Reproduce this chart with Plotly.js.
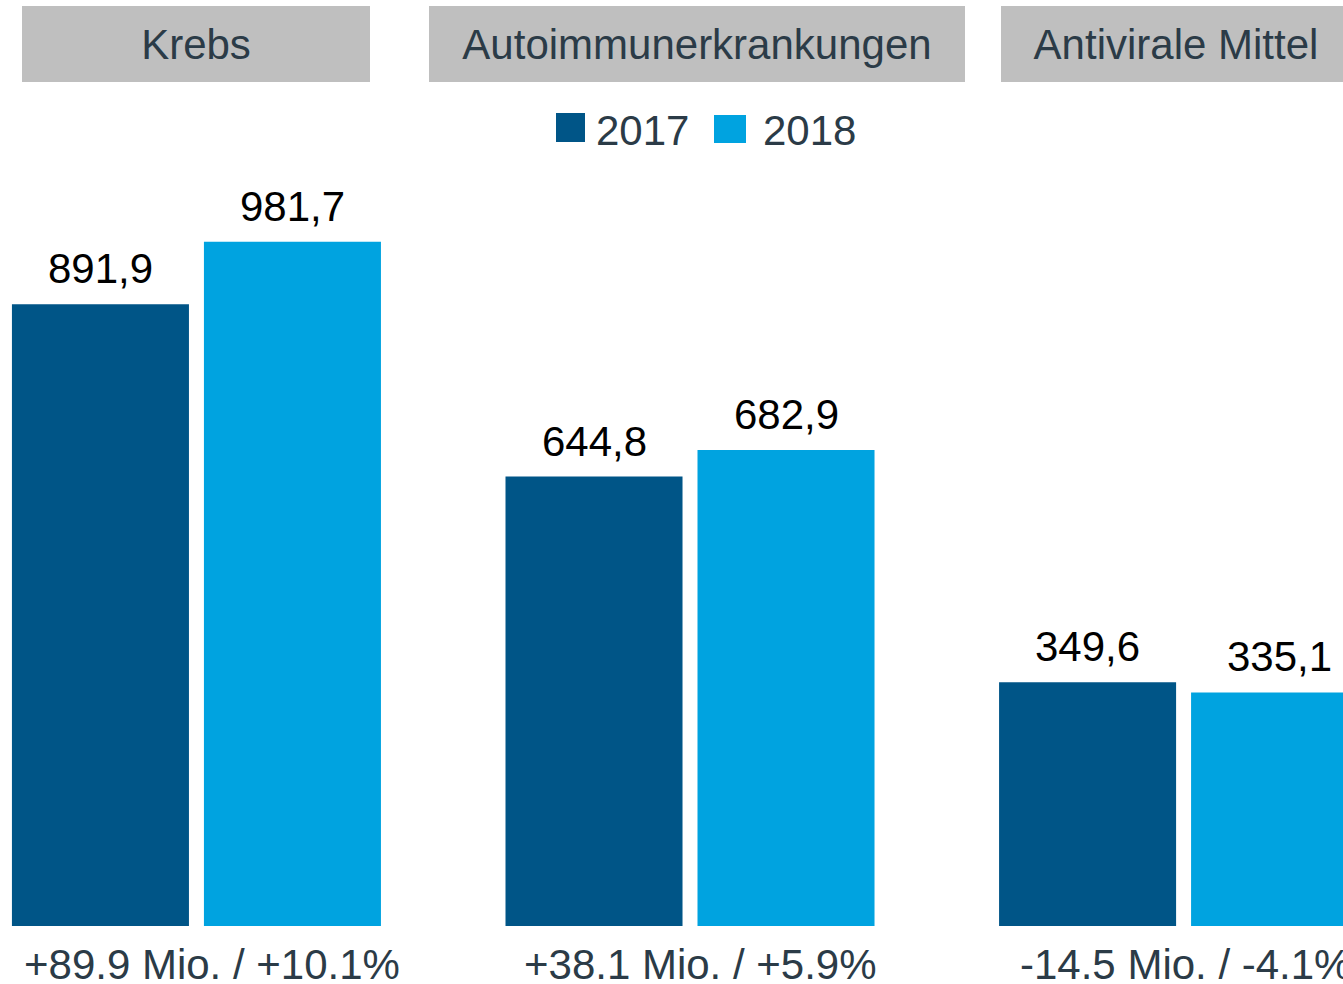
<!DOCTYPE html>
<html>
<head>
<meta charset="utf-8">
<script src="https://cdn.plot.ly/plotly-3.0.1.min.js"></script>
<style>html,body{margin:0;padding:0;background:#fff;}#chart{width:1343px;height:984px;}</style>
</head>
<body>
<div id="chart"></div>
<script>
var categories = ["Krebs", "Autoimmunerkrankungen", "Antivirale Mittel"];
var seriesNames = ["2017", "2018"];
var values2017 = [891.9, 644.8, 349.6];
var values2018 = [981.7, 682.9, 335.1];
var changeLabels = ["+89.9 Mio. / +10.1%", "+38.1 Mio. / +5.9%", "-14.5 Mio. / -4.1%"];

var colors = ["#005587", "#00A3E0"];
var FONT = "Liberation Sans, Arial, sans-serif";
var TXT = "#2B3B47";

function fmt(v){ return v.toFixed(1).replace(".", ","); }

var allSeries = [values2017, values2018];
var traces = allSeries.map(function(vals, k){
  return {
    type: "bar",
    name: seriesNames[k],
    x: categories,
    y: vals,
    marker: {color: colors[k]},
    showlegend: false,
    hoverinfo: "skip"
  };
});

var annotations = [];
// value labels above bars (bar offset within group = half a bar slot)
var slotShift = [-96, 96];
allSeries.forEach(function(vals, k){
  vals.forEach(function(v, i){
    annotations.push({
      text: fmt(v), xref: "x", x: i, xshift: slotShift[k],
      yref: "y", y: v, yanchor: "bottom", yshift: 10,
      showarrow: false,
      font: {family: FONT, size: 42, color: "#000000"}
    });
  });
});

var headerWidths = [348, 536, 350];
var headerShift = [0, 7, -8];
categories.forEach(function(c, i){
  annotations.push({
    text: c, xref: "x", x: i, xshift: headerShift[i],
    yref: "paper", y: 1, yanchor: "top", yshift: -6,
    showarrow: false, width: headerWidths[i], height: 76,
    bgcolor: "#BFBFBF", borderpad: 0, borderwidth: 0,
    font: {family: FONT, size: 42, color: TXT}, valign: "middle"
  });
});
var labelShift = [16, 10, 2];
changeLabels.forEach(function(t, i){
  annotations.push({
    text: t, xref: "x", x: i, xshift: labelShift[i],
    yref: "paper", y: -0.0415, yanchor: "middle",
    showarrow: false, borderpad: 0,
    font: {family: FONT, size: 42, color: TXT}
  });
});

// custom legend
var W = 1343, H = 926;
var legendSquares = [[556, 585, 113, 142], [714, 746, 115, 143]];
var legendTextX = [594, 761];
var shapes = [];
seriesNames.forEach(function(n, k){
  var s = legendSquares[k];
  shapes.push({type: "rect", xref: "paper", yref: "paper",
    x0: s[0]/W, x1: s[1]/W, y0: (H - s[3])/H, y1: (H - s[2])/H,
    fillcolor: colors[k], line: {width: 0}});
  annotations.push({text: n, xref: "paper", x: legendTextX[k]/W, xanchor: "left",
    yref: "paper", y: (H - 130)/H, yanchor: "middle", showarrow: false,
    font: {family: FONT, size: 42, color: TXT}});
});

var layout = {
  width: 1343, height: 984,
  margin: {l: 0, r: 0, t: 0, b: 58, pad: 0},
  paper_bgcolor: "#ffffff", plot_bgcolor: "#ffffff",
  barmode: "group", bargap: 0.222, bargroupgap: 0.078,
  xaxis: {type: "category", range: [-0.398, 2.323], visible: false, fixedrange: true},
  yaxis: {range: [0, 1328.5], visible: false, fixedrange: true},
  annotations: annotations,
  shapes: shapes,
  showlegend: false,
  font: {family: FONT}
};

Plotly.newPlot("chart", traces, layout, {staticPlot: true, displayModeBar: false});
</script>
</body>
</html>
